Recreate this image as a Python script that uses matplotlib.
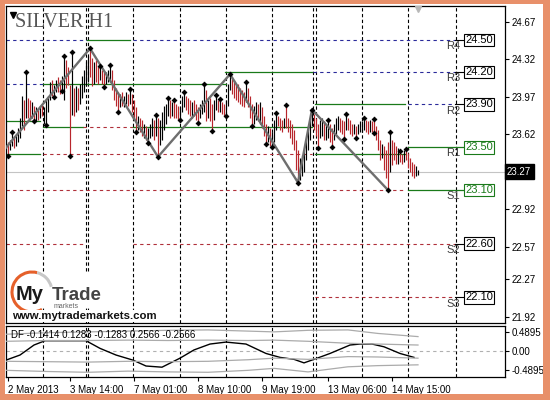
import matplotlib
matplotlib.use("Agg")
import matplotlib.pyplot as plt
from matplotlib.patches import Rectangle, Arc
from matplotlib.transforms import blended_transform_factory
import numpy as np

plt.rcParams["font.family"] = ["Liberation Sans", "DejaVu Sans"]

# ---- price data: SILVER H1, one bar per hour, index 0 = first bar on screen ----
first_open = 23.52
highs = [
    23.55, 23.57, 23.64, 23.60, 23.62, 23.68, 23.77, 23.98, 23.94, 24.20,
    23.96, 23.94, 23.92, 23.88, 23.87, 23.85, 23.88, 23.90, 23.87, 23.94,
    23.98, 24.11, 24.13, 24.08, 24.13, 24.15, 24.13, 24.16, 24.35, 24.31,
    24.25, 24.08, 24.39, 24.05, 24.07, 24.05, 24.09, 24.16, 24.22, 24.29,
    24.35, 24.42, 24.33, 24.29, 24.31, 24.26, 24.26, 24.22, 24.20, 24.20,
    24.22, 24.27, 24.22, 24.13, 24.05, 24.01, 24.00, 24.01, 23.98, 24.01,
    24.00, 24.04, 24.00, 23.94, 23.87, 23.79, 23.77, 23.75, 23.72, 23.70,
    23.68, 23.72, 23.77, 23.75, 23.80, 23.77, 23.75, 23.83, 23.88, 23.90,
    23.96, 23.94, 23.92, 23.94, 23.90, 23.88, 23.87, 23.98, 24.01, 23.98,
    23.96, 23.94, 23.92, 23.94, 23.90, 23.87, 23.90, 23.94, 24.09, 24.03,
    23.94, 23.96, 23.90, 23.94, 23.99, 23.94, 23.95, 23.92, 23.90, 23.94,
    24.09, 24.18, 24.15, 24.13, 24.09, 24.09, 24.05, 24.03, 24.01, 24.11,
    24.05, 23.98, 23.90, 23.88, 23.92, 23.90, 23.92, 23.87, 23.79, 23.72,
    23.70, 23.68, 23.64, 23.75, 23.82, 23.79, 23.77, 23.75, 23.77, 23.89,
    23.77, 23.75, 23.72, 23.66, 23.57, 23.47, 23.40, 23.43, 23.47, 23.57,
    23.70, 23.77, 23.85, 23.81, 23.77, 23.72, 23.75, 23.77, 23.74, 23.72,
    23.75, 23.72, 23.68, 23.72, 23.77, 23.79, 23.77, 23.75, 23.74, 23.81,
    23.77, 23.75, 23.72, 23.72, 23.70, 23.72, 23.74, 23.74, 23.77, 23.75,
    23.74, 23.75, 23.74, 23.76, 23.70, 23.66, 23.57, 23.53, 23.51, 23.47,
    23.55, 23.64, 23.57, 23.55, 23.51, 23.49, 23.46, 23.44, 23.47, 23.48,
    23.45, 23.40, 23.36, 23.34, 23.32, 23.29,
]
lows = [
    23.42, 23.47, 23.51, 23.49, 23.51, 23.55, 23.59, 23.70, 23.66, 23.77,
    23.77, 23.75, 23.77, 23.74, 23.74, 23.75, 23.77, 23.79, 23.72, 23.71,
    23.83, 23.94, 23.98, 23.97, 24.01, 24.01, 24.00, 24.02, 23.94, 24.05,
    24.08, 23.42, 23.80, 23.79, 23.83, 23.85, 23.90, 23.96, 24.01, 24.07,
    24.11, 24.15, 24.07, 24.09, 24.11, 24.09, 24.13, 24.09, 24.06, 24.09,
    24.11, 24.11, 24.03, 23.94, 23.88, 23.83, 23.87, 23.88, 23.87, 23.90,
    23.88, 23.90, 23.83, 23.75, 23.64, 23.66, 23.64, 23.60, 23.59, 23.57,
    23.54, 23.59, 23.60, 23.57, 23.60, 23.41, 23.52, 23.57, 23.66, 23.72,
    23.79, 23.77, 23.79, 23.77, 23.77, 23.75, 23.75, 23.83, 23.87, 23.85,
    23.81, 23.79, 23.77, 23.79, 23.75, 23.73, 23.77, 23.81, 23.83, 23.74,
    23.77, 23.74, 23.65, 23.75, 23.85, 23.83, 23.83, 23.81, 23.79, 23.79,
    23.88, 24.03, 24.00, 23.96, 23.94, 23.92, 23.90, 23.88, 23.87, 23.92,
    23.87, 23.77, 23.70, 23.72, 23.75, 23.74, 23.72, 23.68, 23.60, 23.53,
    23.55, 23.51, 23.50, 23.55, 23.66, 23.70, 23.66, 23.64, 23.68, 23.68,
    23.64, 23.59, 23.53, 23.47, 23.29, 23.17, 23.19, 23.23, 23.27, 23.38,
    23.47, 23.57, 23.70, 23.66, 23.60, 23.49, 23.59, 23.60, 23.57, 23.57,
    23.59, 23.55, 23.50, 23.57, 23.62, 23.66, 23.64, 23.62, 23.58, 23.66,
    23.66, 23.62, 23.60, 23.62, 23.59, 23.62, 23.64, 23.64, 23.66, 23.64,
    23.62, 23.64, 23.64, 23.63, 23.57, 23.47, 23.38, 23.40, 23.29, 23.21,
    23.10, 23.27, 23.33, 23.38, 23.34, 23.34, 23.36, 23.34, 23.36, 23.38,
    23.31, 23.27, 23.23, 23.21, 23.23, 23.24,
]
closes = [
    23.48, 23.55, 23.60, 23.53, 23.58, 23.63, 23.72, 23.90, 23.80, 23.92,
    23.84, 23.80, 23.82, 23.76, 23.83, 23.81, 23.84, 23.82, 23.84, 23.90,
    23.95, 24.05, 24.02, 24.03, 24.09, 24.06, 24.03, 24.10, 24.25, 24.15,
    24.10, 23.85, 24.30, 23.85, 24.00, 23.95, 24.04, 24.10, 24.15, 24.25,
    24.30, 24.20, 24.15, 24.20, 24.15, 24.12, 24.20, 24.12, 24.10, 24.15,
    24.18, 24.20, 24.05, 23.98, 23.92, 23.88, 23.95, 23.92, 23.97, 24.00,
    23.96, 23.98, 23.88, 23.80, 23.70, 23.72, 23.68, 23.62, 23.64, 23.58,
    23.60, 23.62, 23.65, 23.58, 23.70, 23.50, 23.62, 23.70, 23.80, 23.85,
    23.90, 23.86, 23.88, 23.84, 23.82, 23.80, 23.84, 23.95, 23.96, 23.90,
    23.88, 23.84, 23.86, 23.82, 23.80, 23.78, 23.84, 23.88, 23.92, 23.80,
    23.85, 23.78, 23.75, 23.88, 23.92, 23.88, 23.90, 23.86, 23.84, 23.90,
    24.05, 24.10, 24.05, 24.00, 23.98, 23.94, 23.92, 23.90, 23.88, 24.00,
    23.88, 23.80, 23.74, 23.78, 23.84, 23.80, 23.82, 23.74, 23.62, 23.58,
    23.60, 23.56, 23.58, 23.70, 23.76, 23.74, 23.70, 23.68, 23.72, 23.70,
    23.66, 23.62, 23.55, 23.48, 23.35, 23.22, 23.30, 23.36, 23.40, 23.52,
    23.64, 23.74, 23.80, 23.75, 23.66, 23.58, 23.62, 23.64, 23.60, 23.62,
    23.64, 23.58, 23.56, 23.62, 23.70, 23.72, 23.68, 23.66, 23.64, 23.74,
    23.70, 23.66, 23.64, 23.66, 23.62, 23.66, 23.68, 23.70, 23.74, 23.70,
    23.66, 23.70, 23.68, 23.66, 23.58, 23.50, 23.40, 23.44, 23.32, 23.26,
    23.20, 23.55, 23.45, 23.42, 23.40, 23.42, 23.40, 23.38, 23.42, 23.40,
    23.32, 23.28, 23.25, 23.22, 23.25, 23.27,
]
last_price = 23.27

# fractal marks (bar indices)
frac_up = [2, 9, 28, 32, 41, 46, 51, 61, 74, 80, 83, 88, 98, 104, 106, 111,
           119, 134, 139, 152, 160, 169, 178, 183, 191, 196, 199]
frac_dn = [0, 13, 19, 23, 27, 31, 48, 55, 64, 70, 75, 86, 95, 102, 109, 122,
           129, 132, 145, 155, 162, 168, 174, 183, 190]

# zigzag pivots (first one lies left of the visible range)
zz_idx = [-4, 41, 75, 111, 145, 152, 190]
zz_price = [23.43, 24.42, 23.41, 24.18, 23.17, 23.85, 23.10]

# pivot levels
level_names = ["R4", "R3", "R2", "R1", "S1", "S2", "S3"]
level_values = [24.50, 24.20, 23.90, 23.50, 23.10, 22.60, 22.10]
# daily level segments: start bar, end bar, price, kind
seg_start = [-1, 62.5, 39.5, 108.5, 152.5, -1, 17.5, 153.5, 200, -1, 17.5, 37.5, 62.5,
             200, -1, 17.5, 153.5, -1, 200, -1, 62.5, 153.5]
seg_end = [39.5, 223.5, 61, 152, 223.5, 17.5, 109, 198.5, 223.5, 16, 37.5, 62.5, 152,
           228.5, 16, 152, 198.5, 198.5, 228.5, 37.5, 223.5, 223.5]
seg_price = [24.50, 24.50, 24.50, 24.20, 24.20, 24.09, 24.09, 23.90, 23.90, 23.74, 23.69,
             23.69, 23.69, 23.50, 23.44, 23.44, 23.44, 23.10, 23.10, 22.60, 22.60, 22.10]
seg_kind = ["res", "res", "piv", "piv", "res", "res", "piv", "piv", "res", "piv", "piv",
            "sup", "piv", "piv", "piv", "sup", "piv", "sup", "piv", "sup", "sup", "sup"]

# time axis
day_breaks = [17.5, 39, 40.2, 62.5, 86, 109, 132, 152.5, 153.8, 177, 200, 224]
time_idx = [0, 31, 63, 95, 127, 160, 192]
time_labels = ["2 May 2013", "3 May 14:00", "7 May 01:00", "8 May 10:00",
               "9 May 19:00", "13 May 06:00", "14 May 15:00"]
price_ticks = [24.67, 24.32, 23.97, 23.62, 22.92, 22.57, 22.27, 21.92]

# DF oscillator and its bands
df_idx = [-1, 6, 13, 18.5, 39, 46, 54, 62.5, 69, 77, 86, 93, 101, 109, 119, 129,
          136, 143, 148, 153, 161, 171, 176, 182, 188, 196, 203]
df_val = [-0.24, -0.11, 0.145, 0.255, 0.255, 0.06, -0.11, -0.24, -0.39, -0.42, -0.19,
          0.02, 0.17, 0.22, 0.17, -0.07, -0.17, -0.22, -0.31, -0.22, -0.07, 0.145,
          0.17, 0.17, 0.10, -0.07, -0.17]
band_idx = [-1, 20, 40, 60, 80, 100, 120, 133, 150, 170, 185, 205]
band_up2 = [0.42, 0.46, 0.48, 0.50, 0.52, 0.53, 0.50, 0.48, 0.52, 0.53, 0.44, 0.36]
band_up1 = [0.24, 0.26, 0.26, 0.27, 0.26, 0.27, 0.26, 0.27, 0.24, 0.19, 0.17, 0.145]
band_dn1 = [-0.27, -0.28, -0.29, -0.27, -0.28, -0.27, -0.23, -0.19, -0.22, -0.15, -0.16, -0.19]
band_dn2 = [-0.50, -0.53, -0.55, -0.52, -0.54, -0.55, -0.50, -0.45, -0.54, -0.41, -0.38, -0.36]

BEAR = "#B8262C"
GREEN = "#1A7A1A"
BLUE = "#2A2A9A"
RED_D = "#B0303A"
ORANGE = "#E8906A"

fig = plt.figure(figsize=(5.5, 4), dpi=100)
fig.patch.set_facecolor("white")
ax = fig.add_axes([6 / 550, 77 / 400, 499 / 550, 317 / 400])
sub = fig.add_axes([6 / 550, 23 / 400, 499 / 550, 51 / 400], sharex=ax)

x = np.arange(len(highs))
opens = np.array([first_open] + closes[:-1])
cl = np.array(closes)
bar_colors = np.where(cl >= opens, "black", BEAR)
ax.vlines(x, lows, highs, colors=bar_colors, lw=0.85, zorder=3)

ax.plot(zz_idx, zz_price, color="#6E6E6E", lw=1.7, zorder=4, solid_capstyle="round")
hi = np.array(highs)
lo = np.array(lows)
ax.plot(frac_up, hi[frac_up], ls="none", marker=(4, 1, 0), ms=3.4, color="black", zorder=5)
ax.plot(frac_dn, lo[frac_dn], ls="none", marker=(4, 1, 0), ms=3.4, color="black", zorder=5)

# level segments
kind_style = {
    "res": dict(color=BLUE, lw=0.8, ls=(0, (3, 3))),
    "piv": dict(color=GREEN, lw=0.9, ls="-"),
    "sup": dict(color=RED_D, lw=0.8, ls=(0, (3, 3))),
}
for s, e, p, k in zip(seg_start, seg_end, seg_price, seg_kind):
    ax.plot([s, e], [p, p], zorder=2, **kind_style[k])

for name, val in zip(level_names, level_values):
    green = name in ("R1", "S1")
    if not green:
        ax.plot([223.5, 228.5], [val, val], color="black", lw=0.8, zorder=2)
    ax.text(235.5, val, f"{val:.2f}", ha="center", va="center", fontsize=8,
            color=GREEN if green else "black", zorder=6,
            bbox=dict(boxstyle="square,pad=0.12", fc="white",
                      ec=GREEN if green else "black", lw=0.8))
    ax.text(222.5, val - 0.012, name, ha="center", va="top", fontsize=8,
            color="#3C3C3C", zorder=6)

ax.axhline(last_price, color="#C4C4C4", lw=0.8, zorder=1)
for b in day_breaks:
    ax.axvline(b, color="black", lw=0.8, ls=(0, (3, 2.2)), zorder=1)
    sub.axvline(b, color="black", lw=0.8, ls=(0, (3, 2.2)), zorder=1)

ax.set_xlim(-1, 248.5)
ax.set_ylim(21.861, 24.816)
ax.yaxis.tick_right()
ax.set_yticks(price_ticks)
ax.set_yticklabels([f"{v:.2f}" for v in price_ticks])
ax.tick_params(axis="y", length=3, width=0.8, pad=2, labelsize=7)
ax.tick_params(axis="x", bottom=False, labelbottom=False)
for sp in ax.spines.values():
    sp.set_linewidth(0.9)

trans = blended_transform_factory(ax.transAxes, ax.transData)
ax.text(1.004, last_price, f"{last_price:.2f}", transform=trans, ha="left", va="center",
        fontsize=7, color="white", zorder=7, clip_on=False,
        bbox=dict(boxstyle="square,pad=0.25", fc="black", ec="black"))

# DF sub-window
for band in (band_up2, band_up1, band_dn1, band_dn2):
    sub.plot(band_idx, band, color="#ABABAB", lw=0.9, zorder=3)
sub.plot(df_idx, df_val, color="black", lw=1.0, zorder=2)
sub.axhline(0, color="#B0B0B0", lw=0.8, ls=(0, (3, 3)), zorder=1)
sub.set_ylim(-0.67, 0.63)
sub.yaxis.tick_right()
sub.set_yticks([0.4895, 0, -0.4895])
sub.set_yticklabels(["0.4895", "0.00", "-0.4895"])
sub.tick_params(axis="y", length=3, width=0.8, pad=2, labelsize=7)
sub.set_xticks(time_idx)
sub.set_xticklabels(time_labels)
sub.tick_params(axis="x", length=3, width=0.8, pad=3, labelsize=7)
for lbl in sub.get_xticklabels():
    lbl.set_horizontalalignment("left")
for sp in sub.spines.values():
    sp.set_linewidth(0.9)
sub.text(0.011, 0.82, "DF -0.1414 0.1283 -0.1283 0.2566 -0.2566", transform=sub.transAxes,
         fontsize=7, ha="left", va="center", zorder=5)

# overlay: frame, title, watermark
ov = fig.add_axes([0, 0, 1, 1], zorder=10)
ov.set_xlim(0, 550)
ov.set_ylim(400, 0)
ov.axis("off")
ov.patch.set_alpha(0)
for r in [(0, 0, 5, 400), (543, 0, 7, 400), (0, 0, 550, 4), (0, 394, 550, 6)]:
    ov.add_patch(Rectangle(r[:2], r[2], r[3], fc=ORANGE, ec="none"))
ov.text(15, 27, "SILVER H1", family="Liberation Serif", fontsize=14.5, color="#555555",
        va="baseline", ha="left")
ov.plot([13], [14.5], marker="v", ms=4, color="black")
ov.plot([418], [9], marker="v", ms=5, color="#B8B8B8")

ov.add_patch(Rectangle((10, 272), 95, 36, fc="white", ec="none"))
ov.add_patch(Arc((32, 292), 40, 40, theta1=60, theta2=285, color="#E5602A", lw=2.2))
ov.add_patch(Arc((32, 292), 40, 40, theta1=285, theta2=345, color="#C8C8C8", lw=2.2))
ov.text(16, 300, "My", fontsize=14.5, fontweight="bold", color="#1A1A1A", va="baseline")
ov.text(52, 300, "Trade", fontsize=13.5, fontweight="bold", color="#444444", va="baseline")
ov.text(54, 306, "markets", fontsize=5, color="#666666", va="center")
ov.text(12, 316, "www.mytrademarkets.com", fontsize=8.2, fontweight="bold", color="#111111",
        va="center", ha="left", bbox=dict(boxstyle="square,pad=0.1", fc="white", ec="none"))

fig.savefig("out.png", dpi=100)
plt.close(fig)
